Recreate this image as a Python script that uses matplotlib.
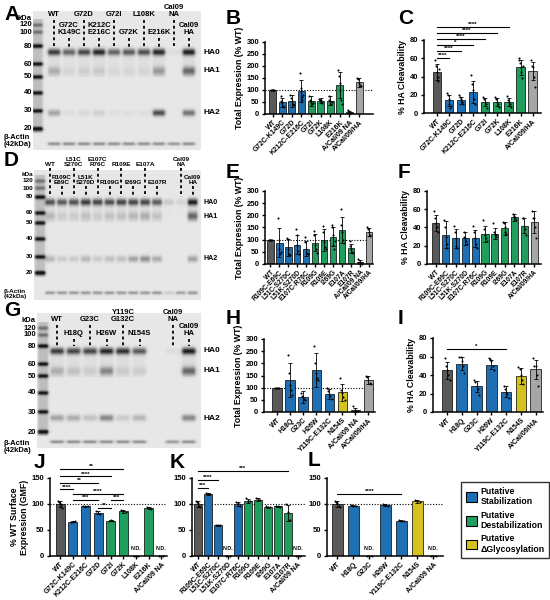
import numpy as np
import matplotlib
matplotlib.use('Agg')
import matplotlib.pyplot as plt
from matplotlib.patches import Patch

plt.rcParams['font.family'] = ['Liberation Sans', 'DejaVu Sans']
plt.rcParams['font.weight'] = 'bold'
plt.rcParams['axes.labelweight'] = 'bold'

W, H = 550, 600

DG = '#595959'
BL = '#1f6fb5'
GR = '#1f9e5e'
YL = '#d6c21f'
LG = '#a6a6a6'

# ---------------- western blot data (band intensity 0..1) ----------------
blotA_lanes = ['WT', 'G72C\nK149C', 'G72D', 'K212C\nE216C', 'G72I', 'G72K',
               'L108K', 'E216K', 'Cal09\nNA', 'Cal09\nHA']
blotA_rows = [0, 1, 0, 1, 0, 1, 0, 1, 0, 1]
blotA_ha0 = [0.85, 0.65, 0.80, 0.95, 0.65, 0.70, 0.75, 0.95, 0.05, 1.00]
blotA_ha1 = [0.25, 0.06, 0.08, 0.10, 0.05, 0.05, 0.05, 0.35, 0.00, 0.60]
blotA_ha2 = [0.35, 0.05, 0.08, 0.12, 0.05, 0.05, 0.05, 0.80, 0.00, 0.60]
blotA_act = [0.45, 0.45, 0.45, 0.45, 0.45, 0.45, 0.45, 0.45, 0.40, 0.45]

blotD_lanes = ['WT', 'R109C\nE69C', 'L51C\nS270C', 'L51K\nS270D', 'E107C\nR76C',
               'R109G', 'R109E', 'I269G', 'E107A', 'E107R', '', 'Cal09\nNA', 'Cal09\nHA']
blotD_rows = [0, 1, 0, 1, 0, 1, 0, 1, 0, 1, None, 0, 1]
blotD_ha0 = [0.75, 0.70, 0.75, 0.85, 0.80, 0.75, 0.80, 0.80, 0.80, 0.70, 0.15, 0.10, 1.00]
blotD_ha1 = [0.20, 0.10, 0.10, 0.15, 0.10, 0.15, 0.15, 0.20, 0.25, 0.15, 0.00, 0.00, 0.60]
blotD_ha2 = [0.25, 0.15, 0.15, 0.25, 0.15, 0.20, 0.20, 0.35, 0.45, 0.30, 0.00, 0.00, 0.35]
blotD_act = [0.40, 0.40, 0.40, 0.40, 0.40, 0.40, 0.40, 0.40, 0.40, 0.40, 0.15, 0.35, 0.40]

blotG_lanes = ['WT', 'H18Q', 'G23C', 'H26W', 'Y119C\nG132C', 'N154S', '', 'Cal09\nNA', 'Cal09\nHA']
blotG_rows = [0, 1, 0, 1, 0, 1, None, 0, 1]
blotG_ha0 = [0.85, 0.80, 0.80, 0.95, 0.90, 0.70, 0.00, 0.05, 1.00]
blotG_ha1 = [0.25, 0.15, 0.10, 0.45, 0.10, 0.10, 0.00, 0.00, 0.60]
blotG_ha2 = [0.35, 0.30, 0.20, 0.50, 0.15, 0.25, 0.00, 0.00, 0.50]
blotG_act = [0.45, 0.45, 0.45, 0.45, 0.45, 0.45, 0.00, 0.40, 0.45]

kda_marks = ['120', '100', '80', '60', '50', '40', '30', '20']
ladder_int = [0.35, 0.35, 0.85, 0.8, 0.8, 0.8, 0.8, 0.95]

# ---------------- bar chart data ----------------
b_labels = ['WT', 'G72C-K149C', 'G72D', 'K212C-E216C', 'G72I', 'G72K', 'L108K',
            'E216K', 'A/Cal/09 NA', 'A/Cal/09/HA']
b_mean = [100, 48, 55, 97, 55, 55, 55, 122, 8, 132]
b_sd = [0, 20, 25, 45, 20, 10, 18, 55, 5, 18]
b_pts = [[100] * 5, [75, 55, 45, 35, 30], [78, 65, 55, 40, 38], [170, 110, 95, 70, 60, 80],
         [75, 60, 50, 40, 45], [62, 60, 58, 50, 45], [75, 60, 55, 40, 48],
         [185, 160, 130, 100, 60, 40], [15, 8, 5, 3], [150, 145, 130, 120, 115]]
b_col = [DG, BL, BL, BL, GR, GR, GR, GR, DG, LG]

c_labels = ['WT', 'G72C-K149C', 'G72D', 'K212C-E216C', 'G72I', 'G72K', 'L108K',
            'E216K', 'A/Cal/09/HA']
c_mean = [45, 14, 14, 23, 12, 12, 12, 50, 46]
c_sd = [9, 6, 4, 12, 4, 4, 4, 8, 10]
c_pts = [[58, 52, 45, 40, 35, 48], [22, 20, 15, 10, 6, 8], [20, 17, 15, 12, 10],
         [42, 32, 25, 15, 10], [18, 15, 12, 10, 6], [17, 15, 12, 10, 7],
         [19, 14, 12, 10, 7], [60, 58, 55, 50, 45, 38, 52], [58, 52, 50, 40, 28]]
c_col = [DG, BL, BL, BL, GR, GR, GR, GR, LG]
c_sig = [(0, 1, 60.5, '****'), (0, 2, 68, '****'), (0, 3, 75, '*'),
         (0, 4, 81, '****'), (0, 5, 88, '****'), (0, 6, 94.5, '****')]

e_labels = ['WT', 'R109C-E69C', 'L51C-S270C', 'L51K-S270D', 'E107C-R76C', 'R109G',
            'R109E', 'I269G', 'E107A', 'E107R', 'A/Cal/09 NA', 'A/Cal/09/HA']
e_mean = [100, 88, 68, 80, 63, 87, 100, 112, 140, 65, 8, 132]
e_sd = [0, 60, 35, 40, 30, 35, 45, 40, 55, 18, 8, 15]
e_pts = [[100] * 5, [190, 100, 60, 40, 50], [105, 100, 60, 40, 35], [145, 120, 80, 55, 40],
         [110, 90, 60, 45, 40], [135, 120, 80, 60, 45], [155, 130, 90, 70, 60],
         [160, 150, 120, 80, 60, 95], [225, 160, 130, 100, 85], [95, 75, 60, 50, 45],
         [22, 10, 5, 2], [150, 145, 130, 120, 115]]
e_col = [DG, BL, BL, BL, BL, GR, GR, GR, GR, GR, DG, LG]

f_labels = ['WT', 'R109C-E69C', 'L51C-S270C', 'L51K-S270D', 'E107C-R76C', 'R109G',
            'R109E', 'I269G', 'E107A', 'E107R', 'A/Cal/09/HA']
f_mean = [45, 32, 28, 28, 28, 33, 33, 39, 51, 42, 46]
f_sd = [9, 15, 10, 7, 9, 9, 6, 7, 4, 8, 12]
f_pts = [[58, 50, 45, 40, 35], [48, 40, 30, 22, 18], [42, 35, 28, 20, 18], [35, 30, 28, 25, 22],
         [42, 35, 28, 22, 18], [48, 38, 32, 28, 25], [45, 35, 33, 32, 30], [46, 45, 40, 35, 33],
         [55, 53, 51, 50, 48], [50, 50, 42, 38, 32], [58, 50, 50, 40, 28]]
f_col = [DG, BL, BL, BL, BL, GR, GR, GR, GR, GR, LG]

h_labels = ['WT', 'H18Q', 'G23C', 'H26W', 'Y119C-E132C', 'N154S', 'A/Cal/09 NA', 'A/Cal/09/HA']
h_mean = [100, 130, 62, 173, 75, 82, 8, 132]
h_sd = [0, 70, 25, 70, 20, 35, 8, 15]
h_pts = [[100] * 5, [235, 160, 110, 90, 70], [80, 65, 60, 55, 50], [270, 200, 160, 140, 130],
         [100, 85, 75, 65, 55], [140, 90, 80, 60, 50], [25, 10, 5, 3], [150, 145, 130, 120, 115]]
h_col = [DG, BL, BL, BL, BL, YL, DG, LG]

i_labels = ['WT', 'H18Q', 'G23C', 'H26W', 'Y119C-E132C', 'N154S', 'A/Cal/09/HA']
i_mean = [45, 52, 28, 51, 22, 39, 46]
i_sd = [9, 7, 6, 5, 6, 9, 10]
i_pts = [[58, 50, 45, 40, 35], [60, 60, 55, 50, 42], [35, 32, 28, 25, 18], [58, 57, 55, 50, 45],
         [28, 25, 22, 20, 15], [49, 47, 40, 35, 30], [58, 50, 50, 40, 28]]
i_col = [DG, BL, BL, BL, BL, YL, LG]
i_sig = [(0, 4, 68, '*')]

j_labels = ['WT', 'G72C-K149C', 'K212C-E216C', 'G72D', 'G72I', 'G72K', 'L108K',
            'E216K', 'A/Cal/09 NA']
j_mean = [100, 66, 96, 83, 68, 86, 0, 92, 0]
j_sd = [6, 1, 1, 3, 1, 3, 0, 2, 0]
j_pts = [[106, 104, 102, 98, 92], [66, 66, 67], [96, 97, 96], [86, 83, 80], [68, 69, 68],
         [89, 86, 84], [0, 0, 0], [94, 92, 91], [0, 0, 0]]
j_col = [DG, BL, BL, BL, GR, GR, GR, GR, DG]
j_nd = [6, 8]
j_sig = [(0, 5, 167, '**'), (0, 4, 153, '****'), (0, 3, 140, '**'), (0, 1, 128, '****'),
         (1, 5, 120, '****'), (1, 3, 108, '***'), (4, 5, 108, '***'), (3, 4, 93, '**')]

k_labels = ['WT', 'R109C-E69C', 'L51C-S270C', 'L51K-S270D', 'E107C-R76C', 'R109G',
            'R109E', 'I269G', 'E107A', 'E107R', 'A/Cal/09 NA']
k_mean = [100, 120, 59, 0, 100, 106, 108, 94, 96, 83, 0]
k_sd = [6, 2, 1, 0, 4, 4, 3, 1, 1, 15, 0]
k_pts = [[105, 104, 101, 96, 94], [121, 120, 119], [60, 59, 59], [0, 0, 0], [104, 102, 97],
         [112, 106, 105], [112, 110, 108], [96, 95, 94], [97, 96, 95], [100, 85, 70], [0, 0, 0]]
k_col = [DG, BL, BL, BL, BL, GR, GR, GR, GR, GR, DG]
k_nd = [3, 10]
k_sig = [(0, 9, 163, '***'), (0, 2, 146, '****'), (0, 1, 130, '***')]

l_labels = ['WT', 'H18Q', 'G23C', 'H26W', 'Y119C-E132C', 'N154S', 'A/Cal/09 NA']
l_mean = [100, 97, 0, 98, 68, 105, 0]
l_sd = [6, 1, 0, 2, 1, 3, 0]
l_pts = [[106, 104, 101, 96, 94], [98, 97, 97], [0, 0, 0], [100, 98, 97], [69, 68, 68],
         [108, 106, 104], [0, 0, 0]]
l_col = [DG, BL, BL, BL, BL, YL, DG]
l_nd = [2, 6]
l_sig = [(0, 4, 119, '****')]

legend_labels = ['Putative\nStabilization', 'Putative\nDestabilization', 'Putative\n\u0394Glycosylation']
legend_cols = [BL, GR, YL]

fig = plt.figure(figsize=(5.5, 6), dpi=100)
pa = fig.add_axes([0, 0, 1, 1])
pa.set_xlim(0, W)
pa.set_ylim(H, 0)
pa.axis('off')


def draw_blot(box, ladder_x, lane0, step, lanes, rows, bands, band_y, mark_y,
              label_y, dash_y, fs, actin_txt_y):
    x0, x1, y0, y1 = box
    res = 3
    xs = np.linspace(x0, x1, int((x1 - x0) * res))
    ys = np.linspace(y0, y1, int((y1 - y0) * res))
    X, Y = np.meshgrid(xs, ys)
    img = np.full(X.shape, 0.10)
    sig = {'ha0': 2.4, 'ha1': 3.0, 'ha2': 2.3, 'act': 1.2}
    hw = step * 0.40
    for i in range(len(lanes)):
        cx = lane0 + step * i
        xp = 1.0 / (1.0 + ((X - cx) / hw) ** 8)
        for key, vals in bands.items():
            img += 0.85 * vals[i] * xp * np.exp(-0.5 * ((Y - band_y[key]) / sig[key]) ** 2)
        # faint smear below the HA0 band
        sm = (Y > band_y['ha0']) & (Y < band_y['ha1'] + 6)
        img += 0.05 * bands['ha0'][i] * xp * sm
    # ladder lane
    xp = 1.0 / (1.0 + ((X - ladder_x) / 5.0) ** 8)
    img += 0.18 * xp * ((Y > mark_y[0] - 6) & (Y < mark_y[-1] + 4))
    for my, v in zip(mark_y, ladder_int):
        img += v * xp * np.exp(-0.5 * ((Y - my) / 1.4) ** 2)
    pa.imshow(np.clip(img, 0, 1), extent=(x0, x1, y1, y0), cmap='gray_r', vmin=0, vmax=1.1,
              aspect='auto', interpolation='bilinear', zorder=0)
    # kDa labels
    pa.text(x0 - 1, mark_y[0] - 7, 'kDa', ha='right', va='center', fontsize=fs, fontweight='bold')
    for lab, my in zip(kda_marks, mark_y):
        pa.text(x0 - 1, my, lab, ha='right', va='center', fontsize=fs, fontweight='bold')
    # band names
    for key, name in [('ha0', 'HA0'), ('ha1', 'HA1'), ('ha2', 'HA2')]:
        pa.text(x1 + 3, band_y[key], name, ha='left', va='center', fontsize=fs + 0.5, fontweight='bold')
    pa.text(4, actin_txt_y, '\u03b2-Actin\n(42kDa)', ha='left', va='center', fontsize=fs,
            fontweight='bold', linespacing=1.15)
    # lane labels and dashed pointers
    for i, (lab, r) in enumerate(zip(lanes, rows)):
        if r is None:
            continue
        cx = lane0 + step * i
        pa.text(cx, label_y[r], lab, ha='center', va='bottom', fontsize=fs,
                fontweight='bold', linespacing=1.05)
        pa.plot([cx, cx], [dash_y[r], band_y['ha0'] - 5], color='black', lw=1.3,
                ls=(0, (1.6, 1.6)))


draw_blot((33, 201, 11, 150), 37.5, 54, 15.0, blotA_lanes, blotA_rows,
          {'ha0': blotA_ha0, 'ha1': blotA_ha1, 'ha2': blotA_ha2, 'act': blotA_act},
          {'ha0': 52, 'ha1': 71, 'ha2': 113, 'act': 144},
          [25, 32, 46, 64, 77, 93, 111, 129], [18, 36], [20, 38], 5.5, 141)
draw_blot((34, 201, 170, 300), 40, 50, 11.9, blotD_lanes, blotD_rows,
          {'ha0': blotD_ha0, 'ha1': blotD_ha1, 'ha2': blotD_ha2, 'act': blotD_act},
          {'ha0': 202, 'ha1': 216, 'ha2': 259, 'act': 293},
          [181, 188, 197, 213, 223, 239, 257, 273], [167, 185], [168, 186], 4.6, 294)
draw_blot((37, 201, 313, 448), 43, 57, 16.5, blotG_lanes, blotG_rows,
          {'ha0': blotG_ha0, 'ha1': blotG_ha1, 'ha2': blotG_ha2, 'act': blotG_act},
          {'ha0': 351, 'ha1': 371, 'ha2': 418, 'act': 442},
          [328, 335, 346, 364, 376, 393, 412, 432], [323, 337], [325, 339], 5.5, 447)

# panel letters
for let, x, y in [('A', 4, 14), ('B', 226, 18), ('C', 398, 18), ('D', 4, 160),
                  ('E', 226, 172), ('F', 398, 172), ('G', 4, 311), ('H', 226, 318),
                  ('I', 398, 318), ('J', 34, 463), ('K', 170, 463), ('L', 308, 461)]:
    pa.text(x, y, let, ha='left', va='center', fontsize=15, fontweight='bold')


def bar_panel(px, xlim, labels, means, sds, pts, cols, ymax, ystep, ylabel=None,
              ref=False, sig=(), nd=(), fs=5.0):
    x0, yt, x1, yb = px
    ax = fig.add_axes([x0 / W, 1 - yb / H, (x1 - x0) / W, (yb - yt) / H])
    idx = np.arange(len(labels))
    ax.bar(idx, means, width=0.72, color=cols, edgecolor='black', linewidth=0.5, zorder=2)
    ax.errorbar(idx, means, yerr=sds, fmt='none', ecolor='black', elinewidth=0.6,
                capsize=1.6, capthick=0.6, zorder=3)
    for i, p in enumerate(pts):
        off = np.linspace(-0.17, 0.17, len(p)) if len(p) > 1 else np.zeros(1)
        ax.scatter(i + off, p, s=2.2, color='black', zorder=4, clip_on=False, linewidths=0)
    if ref:
        ax.axhline(100, color='black', lw=0.8, ls=(0, (1, 1.5)), zorder=1)
    for i, j, y, t in sig:
        ax.plot([i, j], [y, y], color='black', lw=0.8, clip_on=False, zorder=5)
        ax.text((i + j) / 2, y, t, ha='center', va='bottom', fontsize=4.5,
                fontweight='bold', clip_on=False)
    for i in nd:
        ax.text(i, ymax * 0.06, 'N.D.', ha='center', va='bottom', fontsize=3.8, fontweight='bold')
    ax.set_xlim(*xlim)
    ax.set_ylim(0, ymax)
    ax.set_yticks(np.arange(0, ymax + 1, ystep))
    ax.set_xticks(idx)
    ax.set_xticklabels(labels, rotation=45, ha='right', rotation_mode='anchor', fontsize=fs,
                       fontweight='bold')
    ax.tick_params(axis='y', labelsize=5.5, width=1, length=2.5, pad=1.5)
    ax.tick_params(axis='x', width=1, length=2, pad=1.5)
    for s in ['top', 'right']:
        ax.spines[s].set_visible(False)
    for s in ['left', 'bottom']:
        ax.spines[s].set_linewidth(1.1)
    ax.set_facecolor('none')
    if ylabel:
        ax.set_ylabel(ylabel, fontsize=6.3, fontweight='bold', labelpad=2, linespacing=1.1)
    return ax


bar_panel((265, 42, 373, 114), (-0.8, 10.45), b_labels, b_mean, b_sd, b_pts, b_col, 300, 50,
          'Total Expression (% WT)', ref=True)
bar_panel((424, 40, 541, 113), (-1.1, 8.7), c_labels, c_mean, c_sd, c_pts, c_col, 80, 20,
          '% HA Cleavability', sig=c_sig)
bar_panel((265, 191, 373, 264), (-0.6, 11.45), e_labels, e_mean, e_sd, e_pts, e_col, 300, 50,
          'Total Expression (% WT)', ref=True, fs=4.8)
bar_panel((427, 191, 541, 264), (-0.9, 10.7), f_labels, f_mean, f_sd, f_pts, f_col, 80, 20,
          '% HA Cleavability', fs=4.8)
bar_panel((264, 339, 375, 412), (-1.0, 7.5), h_labels, h_mean, h_sd, h_pts, h_col, 300, 50,
          'Total Expression (% WT)', ref=True)
bar_panel((433, 338, 543, 412), (-0.95, 6.5), i_labels, i_mean, i_sd, i_pts, i_col, 80, 20,
          '% HA Cleavability', sig=i_sig)
bar_panel((50, 478, 167, 556), (-0.8, 8.45), j_labels, j_mean, j_sd, j_pts, j_col, 150, 50,
          '% WT Surface\nExpression (GMF)', ref=True, sig=j_sig, nd=j_nd)
bar_panel((192, 478, 305, 556), (-0.6, 10.7), k_labels, k_mean, k_sd, k_pts, k_col, 150, 50,
          ref=True, sig=k_sig, nd=k_nd)
bar_panel((327, 478, 443, 556), (-0.65, 6.6), l_labels, l_mean, l_sd, l_pts, l_col, 150, 50,
          ref=True, sig=l_sig, nd=l_nd)

handles = [Patch(facecolor=c, edgecolor='black', linewidth=0.8) for c in legend_cols]
leg = fig.legend(handles, legend_labels, loc='upper left', bbox_to_anchor=(457 / W, 1 - 478 / H),
                 frameon=True, fancybox=False, edgecolor='black', prop={'size': 6.3, 'weight': 'bold'},
                 handlelength=1.3, handleheight=1.3, labelspacing=0.5, borderpad=0.5,
                 handletextpad=0.4)
leg.get_frame().set_linewidth(1.0)

fig.savefig('out.png', dpi=100)
